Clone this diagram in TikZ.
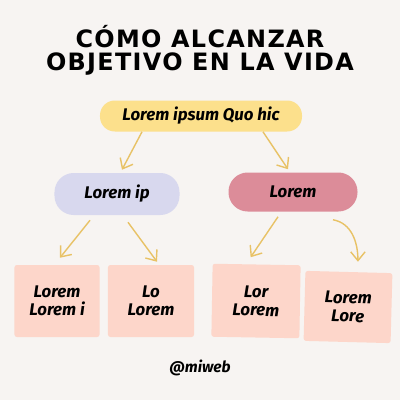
\documentclass[tikz,border=0pt]{standalone}
\usepackage{fontspec}
\setmainfont{Fira Sans}
\newfontfamily\titlefont[LetterSpace=5.5]{DejaVu Sans}
\usetikzlibrary{arrows.meta,calc}
\definecolor{bgcol}{HTML}{F7F4F2}
\definecolor{sunny}{HTML}{FCE08C}
\definecolor{lilac}{HTML}{D8D8EE}
\definecolor{rosewood}{HTML}{DC8C99}
\definecolor{peach}{HTML}{FDD6CA}
\definecolor{arrowcol}{HTML}{E8C266}
\begin{document}
\begin{tikzpicture}[x=0.25mm,y=-0.25mm,
    blob/.style={rounded corners=4.8mm,inner sep=0pt,font=\bfseries\itshape\fontsize{12}{14}\selectfont},
    card/.style={fill=peach,rounded corners=0.6mm,inner sep=0pt,align=center,
      font=\bfseries\itshape\fontsize{12}{13}\selectfont},
    link/.style={draw=arrowcol,line width=1pt,-{Straight Barb[length=2.2mm,width=3.6mm]}}]
    \fill[bgcol] (0,0) rectangle (400,400);
    \useasboundingbox (0,0) rectangle (400,400);
    \node[font=\titlefont\bfseries\fontsize{17}{16.4}\selectfont,align=center] (title) at (200,50)
      {CÓMO ALCANZAR\\OBJETIVO EN LA VIDA};
    \node[blob,fill=sunny,rounded corners=3.7mm,minimum width=50.5mm,minimum height=7.75mm] (top) at (201,116) {Lorem ipsum Quo hic};
    \node[blob,fill=lilac,minimum width=31.25mm,minimum height=10.5mm] (left) at (117,194) {Lorem ip};
    \node[blob,fill=rosewood,minimum width=32.25mm,minimum height=9.75mm] (right) at (293,192) {Lorem};
    \node[card,minimum width=21.25mm,minimum height=18mm] (c1) at (57,301) {Lorem\\Lorem i};
    \node[card,minimum width=21.5mm,minimum height=18mm] (c2) at (151,301) {Lo\\Lorem};
    \node[card,minimum width=22mm,minimum height=18.25mm,rotate=-1] (c3) at (256,301) {Lor\\Lorem};
    \node[card,minimum width=21.75mm,minimum height=17.5mm,rotate=-1.5] (c4) at (348,307) {Lorem\\Lore};
    \node[font=\bfseries\itshape\fontsize{11}{13}\selectfont] (web) at (200,368) {@miweb};
    \draw[link] ($(top.south)+(-59,0)$) -- ($(left.north)+(5,-3)$);
    \draw[link] ($(top.south)+(62,0)$) -- ($(right.north)+(-5,-3)$);
    \draw[link] ($(left.south)+(-27,5)$) -- ($(c1.north)+(3,-7)$);
    \draw[link] ($(left.south)+(11,7)$) -- ($(c2.north)+(6,-3)$);
    \draw[link] ($(right.south)+(-15,5)$) -- ($(c3.north)+(-6,-7)$);
    \draw[link] ($(right.south)+(40,8)$) to[out=-10,in=90] ($(c4.north)+(9,-10)$);
\end{tikzpicture}
\end{document}
